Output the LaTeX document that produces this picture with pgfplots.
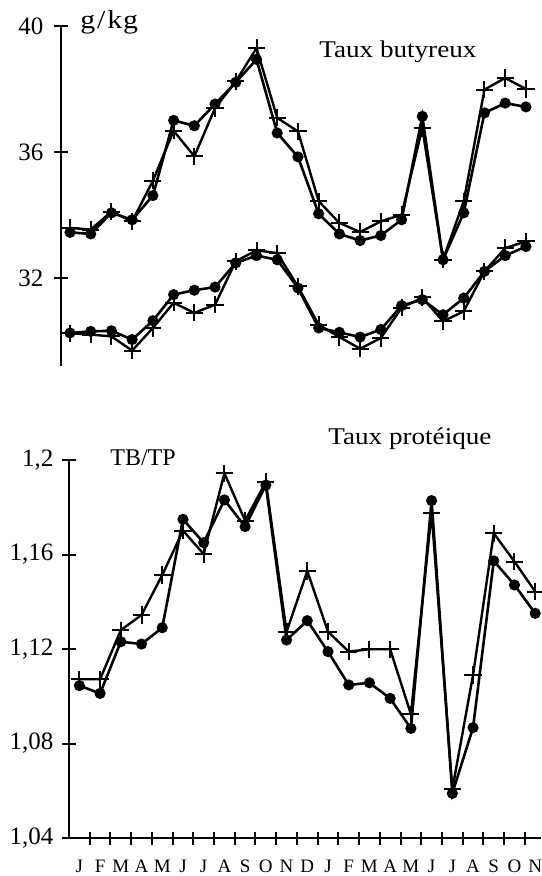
\documentclass[border=0pt]{standalone}
\usepackage{pgfplots}
\pgfplotsset{compat=1.18}
\usepackage{fontspec}
\setmainfont{Liberation Serif}
\pgfplotstableread{
x tbd tbp tpd tpp
0 33.45 33.59 30.25 30.24
1 33.40 33.54 30.30 30.20
2 34.07 34.11 30.32 30.14
3 33.85 33.80 30.04 29.69
4 34.62 35.09 30.64 30.41
5 37.01 36.68 31.47 31.21
6 36.84 35.87 31.61 30.89
7 37.53 37.40 31.71 31.15
8 38.22 38.25 32.48 32.53
9 38.95 39.31 32.71 32.88
10 36.61 37.09 32.58 32.79
11 35.85 36.66 31.68 31.73
12 34.04 34.44 30.41 30.51
13 33.40 33.75 30.27 30.12
14 33.19 33.46 30.12 29.75
15 33.35 33.80 30.36 30.09
16 33.85 34.01 31.12 31.05
17 37.14 36.77 31.31 31.38
18 32.58 32.58 30.83 30.62
19 34.07 34.44 31.36 30.94
20 37.25 37.99 32.21 32.21
21 37.56 38.36 32.71 32.95
22 37.44 38.01 33.00 33.16
}\toptable
\pgfplotstableread{
x rd rp
0 1.1045 1.1072
1 1.1012 1.1072
2 1.1231 1.1280
3 1.1221 1.1344
4 1.1290 1.1513
5 1.1749 1.1701
6 1.1650 1.1602
7 1.1831 1.1944
8 1.1718 1.1743
9 1.1894 1.1908
10 1.1238 1.1273
11 1.1320 1.1530
12 1.1189 1.1273
13 1.1048 1.1189
14 1.1057 1.1199
15 1.0991 1.1199
16 1.0864 1.0924
17 1.1828 1.1777
18 1.0589 1.0606
19 1.0867 1.1090
20 1.1573 1.1690
21 1.1471 1.1570
22 1.1351 1.1443
}\bottable
\pgfplotsset{
  common/.style={
    scale only axis,
    anchor=south west,
    tick align=center,
    major tick length=6.5pt,
    every tick/.style={black, line width=1pt},
    axis line style={-, line width=1.2pt},
    ticklabel style={font=\fontsize{12.5}{13}\selectfont},
    clip=false,
  },
  dots/.style={black, line width=1.3pt, mark=*, mark size=2.1pt, mark options={solid}},
  plus/.style={black, line width=1.2pt, mark=+, mark size=4.3pt, mark options={solid, line width=1pt}},
}
\newcommand{\lbl}[1]{\scalebox{1.13}[1]{#1}}
\begin{document}
\begin{tikzpicture}
\path[use as bounding box] (0,0) rectangle (270.5pt,-438pt);
% top panel
\begin{axis}[common,
  at={(30.5pt,-183pt)},
  width=236.6pt, height=169.8pt,
  xmin=-0.434, xmax=22.4, ymin=29.2, ymax=40,
  axis y line*=left, hide x axis,
  ytick={32,36,40},
  yticklabels={\mbox{32},\mbox{36},\mbox{40}},
  yticklabel style={xshift=-2pt},
]
\addplot[plus] table[x=x,y=tbp] {\toptable};
\addplot[dots] table[x=x,y=tbd] {\toptable};
\addplot[plus] table[x=x,y=tpp] {\toptable};
\addplot[dots] table[x=x,y=tpd] {\toptable};
\end{axis}
% bottom panel
\begin{axis}[common,
  at={(34.5pt,-419pt)},
  width=236pt, height=189pt,
  xmin=-0.5, xmax=22.28, ymin=1.04, ymax=1.2,
  axis y line*=left, axis x line*=bottom,
  ytick={1.04,1.08,1.12,1.16,1.2},
  yticklabels={\mbox{1,04},\mbox{1,08},\mbox{1,12},\mbox{1,16},\mbox{1,2}},
  yticklabel style={xshift=-1pt},
  xtick={0.5,1.5,...,21.5},
  xticklabels={},
  extra x ticks={0,...,22},
  extra x tick labels={J,F,M,A,M,J,J,A,S,O,N,D,J,F,M,A,M,J,J,A,S,O,N},
  extra x tick style={major tick length=0pt, tick style={draw=none},
    xticklabel style={font=\fontsize{9.5}{10}\selectfont, anchor=base, yshift=-17pt}},
]
\addplot[plus] table[x=x,y=rp] {\bottable};
\addplot[dots] table[x=x,y=rd] {\bottable};
\end{axis}
\node[anchor=base west, inner sep=0pt, font=\fontsize{13}{14}\selectfont] at (40pt,-14.5pt) {\scalebox{1.15}[1]{g\kern0.8pt/\kern0.8pt k\kern0.4pt g}};
\node[anchor=base west, inner sep=0pt, font=\fontsize{12}{13}\selectfont] at (159.5pt,-29pt) {\lbl{Taux butyreux}};
\node[anchor=base west, inner sep=0pt, font=\fontsize{12}{13}\selectfont] at (55pt,-232.5pt) {TB/TP};
\node[anchor=base west, inner sep=0pt, font=\fontsize{12}{13}\selectfont] at (164pt,-222pt) {\lbl{Taux protéique}};
\end{tikzpicture}
\end{document}
